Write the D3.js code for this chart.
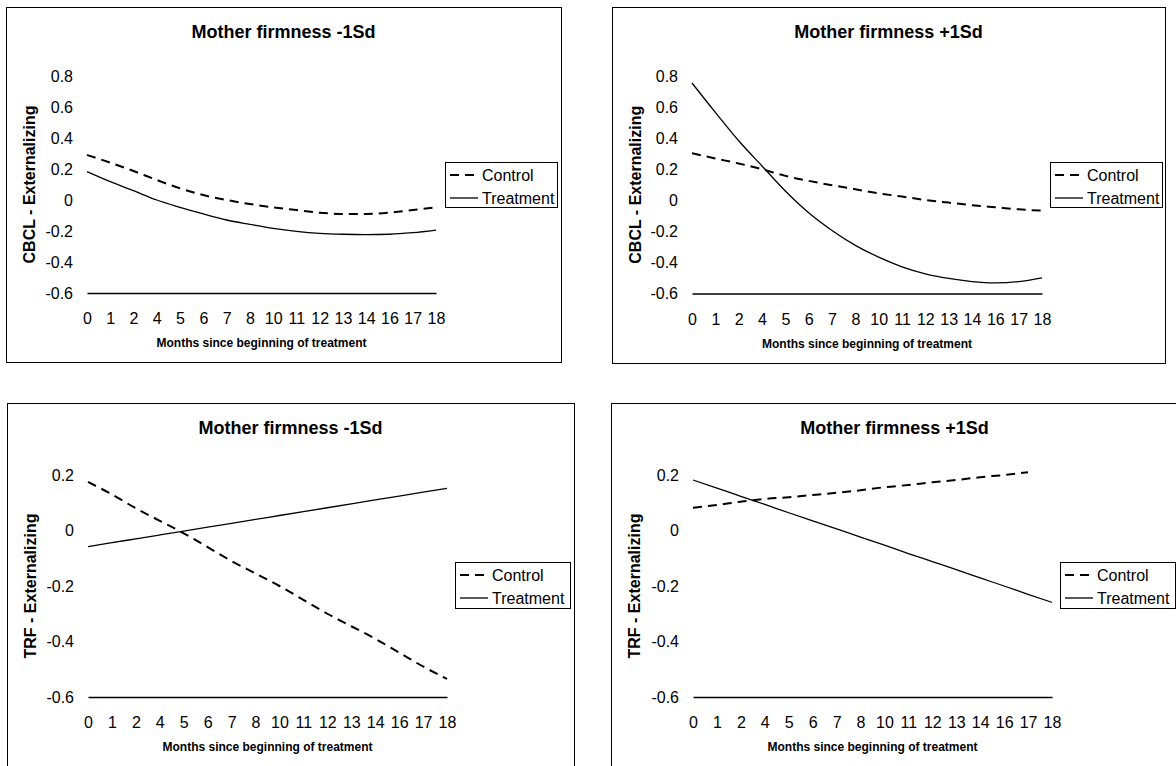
<!DOCTYPE html>
<html>
<head>
<meta charset="utf-8">
<script src="https://cdnjs.cloudflare.com/ajax/libs/d3/7.8.5/d3.min.js"></script>
<style>
  body { margin: 0; background: #fff; }
  svg { display: block; }
  text { font-family: "Liberation Sans", Arial, sans-serif; fill: #000; }
</style>
</head>
<body>
<div id="chart"></div>
<script>
// categories on the x axis (months, plotted as evenly spaced categories)
const months = ["0", "1", "2", "4", "5", "6", "7", "8", "10", "11", "12", "13", "14", "16", "17", "18"];

// CBCL - Externalizing, mother firmness -1Sd
const cbclLowControl   = [0.29, 0.241, 0.187, 0.129, 0.075, 0.032, 0.0, -0.026, -0.047, -0.065, -0.082, -0.09, -0.09, -0.082, -0.065, -0.047];
const cbclLowTreatment = [0.183, 0.118, 0.06, 0.0, -0.047, -0.09, -0.129, -0.157, -0.183, -0.202, -0.215, -0.221, -0.223, -0.221, -0.211, -0.194];

// CBCL - Externalizing, mother firmness +1Sd
const cbclHighControl   = [0.303, 0.269, 0.237, 0.2, 0.157, 0.125, 0.097, 0.071, 0.045, 0.024, 0.002, -0.015, -0.032, -0.045, -0.058, -0.067];
const cbclHighTreatment = [0.755, 0.566, 0.383, 0.221, 0.06, -0.08, -0.194, -0.29, -0.366, -0.428, -0.473, -0.503, -0.523, -0.531, -0.523, -0.499];

// TRF - Externalizing, mother firmness -1Sd
const trfLowControl   = [0.175, 0.13, 0.08, 0.035, -0.01, -0.06, -0.11, -0.155, -0.2, -0.25, -0.3, -0.345, -0.39, -0.44, -0.49, -0.535];
const trfLowTreatment = [-0.058, -0.044, -0.03, -0.016, -0.002, 0.012, 0.026, 0.04, 0.054, 0.068, 0.082, 0.096, 0.11, 0.124, 0.138, 0.152];

// TRF - Externalizing, mother firmness +1Sd (control has no value at month 18)
const trfHighControl   = [0.082, 0.092, 0.104, 0.114, 0.12, 0.128, 0.136, 0.145, 0.156, 0.164, 0.174, 0.182, 0.192, 0.2, 0.21, null];
const trfHighTreatment = [0.182, 0.153, 0.123, 0.094, 0.064, 0.035, 0.006, -0.024, -0.053, -0.083, -0.112, -0.141, -0.171, -0.2, -0.23, -0.259];

// tick values
const cbclTicks = [0.8, 0.6, 0.4, 0.2, 0, -0.2, -0.4, -0.6];
const trfTicks  = [0.2, 0, -0.2, -0.4, -0.6];

const seriesNames = ["Control", "Treatment"];

var svgWidth = 1176;
var svgHeight = 766;

var svg = d3.select("#chart")
  .append("svg")
  .attr("width", svgWidth)
  .attr("height", svgHeight);

// one entry per panel: frame box, plot area and legend box
var panels = [
  {
    title: "Mother firmness -1Sd", yTitle: "CBCL - Externalizing",
    control: cbclLowControl, treatment: cbclLowTreatment, ticks: cbclTicks,
    frame: {x: 6, y: 7, w: 555, h: 355},
    plot: {x0: 87, x1: 436, top: 76, bottom: 293},
    legend: {x: 445, y: 162, w: 112, h: 45}
  },
  {
    title: "Mother firmness +1Sd", yTitle: "CBCL - Externalizing",
    control: cbclHighControl, treatment: cbclHighTreatment, ticks: cbclTicks,
    frame: {x: 612, y: 7, w: 553, h: 356},
    plot: {x0: 692, x1: 1042, top: 76, bottom: 293.5},
    legend: {x: 1050, y: 162, w: 112, h: 45}
  },
  {
    title: "Mother firmness -1Sd", yTitle: "TRF - Externalizing",
    control: trfLowControl, treatment: trfLowTreatment, ticks: trfTicks,
    frame: {x: 7, y: 403, w: 567, h: 400},
    plot: {x0: 88, x1: 447, top: 475, bottom: 697},
    legend: {x: 455, y: 562, w: 115, h: 46}
  },
  {
    title: "Mother firmness +1Sd", yTitle: "TRF - Externalizing",
    control: trfHighControl, treatment: trfHighTreatment, ticks: trfTicks,
    frame: {x: 611, y: 403, w: 567, h: 400},
    plot: {x0: 693, x1: 1052, top: 475, bottom: 697},
    legend: {x: 1060, y: 562, w: 115, h: 46}
  }
];

panels.forEach(function(p) {
  var g = svg.append("g");

  // outer chart border
  g.append("rect")
    .attr("x", p.frame.x + 0.5)
    .attr("y", p.frame.y + 0.5)
    .attr("width", p.frame.w)
    .attr("height", p.frame.h)
    .attr("fill", "white")
    .attr("stroke", "#000")
    .attr("stroke-width", 1);

  // scales
  var xScale = d3.scalePoint()
    .domain(months)
    .range([p.plot.x0, p.plot.x1])
    .padding(0);

  var yScale = d3.scaleLinear()
    .domain([d3.min(p.ticks), d3.max(p.ticks)])
    .range([p.plot.bottom, p.plot.top]);

  // title
  g.append("text")
    .attr("x", p.frame.x + p.frame.w / 2)
    .attr("y", p.frame.y + 25)
    .attr("text-anchor", "middle")
    .attr("dominant-baseline", "central")
    .attr("font-size", "18px")
    .attr("font-weight", "bold")
    .text(p.title);

  // y axis (labels only, no line)
  var yAxis = d3.axisLeft(yScale)
    .tickValues(p.ticks)
    .tickSize(0)
    .tickPadding(14)
    .tickFormat(d => String(d));

  var yG = g.append("g")
    .attr("transform", `translate(${p.plot.x0}, 0)`)
    .call(yAxis);
  yG.select(".domain").remove();
  yG.selectAll("text")
    .attr("font-size", "16px")
    .attr("font-family", "Liberation Sans, Arial, sans-serif")
    .attr("fill", "#000");

  // x axis: the domain line is the baseline at the lowest tick
  var xAxis = d3.axisBottom(xScale)
    .tickSize(0)
    .tickSizeOuter(0)
    .tickPadding(20);

  var xG = g.append("g")
    .attr("transform", `translate(0, ${yScale(d3.min(p.ticks))})`)
    .call(xAxis);
  xG.select(".domain")
    .attr("stroke", "#000")
    .attr("stroke-width", 1.3);
  xG.selectAll("text")
    .attr("font-size", "16px")
    .attr("font-family", "Liberation Sans, Arial, sans-serif")
    .attr("fill", "#000");

  // axis titles
  g.append("text")
    .attr("x", (p.plot.x0 + p.plot.x1) / 2)
    .attr("y", p.plot.bottom + 50)
    .attr("text-anchor", "middle")
    .attr("dominant-baseline", "central")
    .attr("font-size", "12px")
    .attr("font-weight", "bold")
    .text("Months since beginning of treatment");

  g.append("text")
    .attr("transform", `translate(${p.frame.x + 23}, ${(p.plot.top + p.plot.bottom) / 2}) rotate(-90)`)
    .attr("text-anchor", "middle")
    .attr("dominant-baseline", "central")
    .attr("font-size", "16px")
    .attr("font-weight", "bold")
    .text(p.yTitle);

  // lines
  var line = d3.line()
    .defined(d => d.v !== null)
    .x(d => xScale(d.m))
    .y(d => yScale(d.v))
    .curve(d3.curveMonotoneX);

  var controlData = months.map((m, i) => ({m: m, v: p.control[i]}));
  var treatmentData = months.map((m, i) => ({m: m, v: p.treatment[i]}));

  g.append("path")
    .datum(treatmentData)
    .attr("d", line)
    .attr("fill", "none")
    .attr("stroke", "#000")
    .attr("stroke-width", 1.3);

  g.append("path")
    .datum(controlData)
    .attr("d", line)
    .attr("fill", "none")
    .attr("stroke", "#000")
    .attr("stroke-width", 2)
    .attr("stroke-dasharray", "9,6");

  // legend
  var lg = g.append("g")
    .attr("transform", `translate(${p.legend.x}, ${p.legend.y})`);

  lg.append("rect")
    .attr("x", 0.5)
    .attr("y", 0.5)
    .attr("width", p.legend.w)
    .attr("height", p.legend.h)
    .attr("fill", "white")
    .attr("stroke", "#000")
    .attr("stroke-width", 1);

  seriesNames.forEach(function(name, i) {
    var ry = 13 + i * 23;
    lg.append("line")
      .attr("x1", 5)
      .attr("x2", 33)
      .attr("y1", ry)
      .attr("y2", ry)
      .attr("stroke", "#000")
      .attr("stroke-width", i === 0 ? 2 : 1.3)
      .attr("stroke-dasharray", i === 0 ? "9,6" : null);

    lg.append("text")
      .attr("x", 37)
      .attr("y", ry)
      .attr("dominant-baseline", "central")
      .attr("font-size", "16px")
      .text(name);
  });
});
</script>
</body>
</html>
